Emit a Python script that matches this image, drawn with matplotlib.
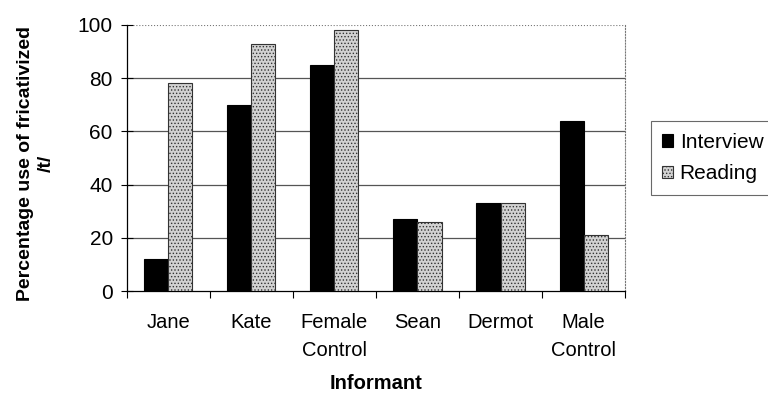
import matplotlib.pyplot as plt
import numpy as np

plt.rcParams['font.family'] = ['Liberation Sans', 'DejaVu Sans']
plt.rcParams['hatch.linewidth'] = 0.6

informants = ['Jane', 'Kate', 'Female\nControl', 'Sean', 'Dermot', 'Male\nControl']
interview = [12, 70, 85, 27, 33, 64]
reading = [78, 93, 98, 26, 33, 21]

fig = plt.figure(figsize=(7.68, 4.01), dpi=100)
ax = fig.add_axes([0.165, 0.274, 0.649, 0.664])

x = np.arange(len(informants))
w = 0.29
ax.bar(x - w / 2, interview, w, color='black', edgecolor='black', linewidth=0.8,
       label='Interview', zorder=3)
ax.bar(x + w / 2, reading, w, color='#d2d2d2', edgecolor='#333333', linewidth=0.8,
       hatch='.....', label='Reading', zorder=3)

ax.set_xlim(-0.5, len(informants) - 0.5)
ax.set_ylim(0, 100)
ax.set_yticks([0, 20, 40, 60, 80, 100])
ax.set_xticks(x)
ax.set_xticklabels(informants, fontsize=14.5, linespacing=1.55)
ax.tick_params(axis='y', labelsize=15, direction='inout', length=8, width=0.8, pad=6)
ax.tick_params(axis='x', length=0, pad=16)
# category separators on x axis
ax.set_xticks(np.arange(-0.5, len(informants)), minor=True)
ax.tick_params(axis='x', which='minor', direction='out', length=5, width=0.8)

for y in [20, 40, 60, 80]:
    ax.axhline(y, color='#555555', linewidth=0.9, zorder=1)
ax.axhline(100, color='#777777', linewidth=0.8, linestyle=':', zorder=1)

ax.spines['top'].set_visible(False)
ax.spines['right'].set_linestyle(':')
ax.spines['right'].set_color('#777777')
ax.spines['left'].set_linewidth(0.9)
ax.spines['bottom'].set_linewidth(0.9)

ax.set_xlabel('Informant', fontsize=14.5, fontweight='bold')
ax.xaxis.set_label_coords(0.5, -0.31)
ax.set_ylabel('Percentage use of fricativized\n/t/', fontsize=14, fontweight='bold',
              linespacing=1.25)
ax.yaxis.set_label_coords(-0.145, 0.48)

leg = ax.legend(loc='center left', bbox_to_anchor=(1.03, 0.5), fontsize=15,
                frameon=True, fancybox=False, edgecolor='#444444',
                handlelength=0.55, handleheight=0.55, handletextpad=0.3,
                borderpad=0.55, labelspacing=0.6)
leg.get_frame().set_linewidth(0.8)

fig.savefig('out.png', dpi=100)
